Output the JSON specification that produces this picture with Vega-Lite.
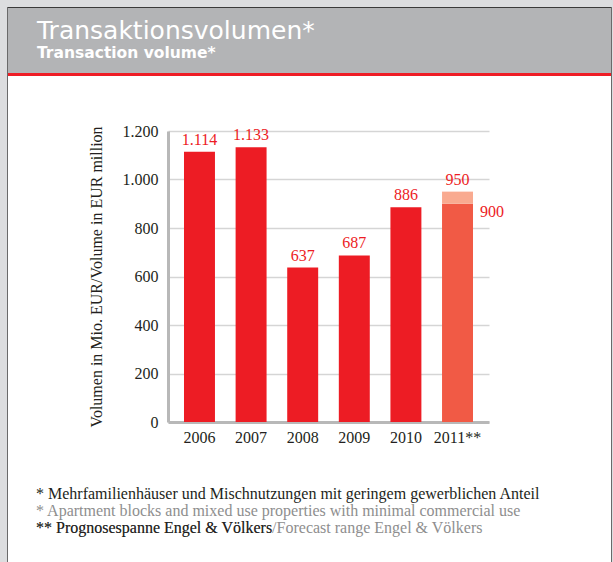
{
  "$schema": "https://vega.github.io/schema/vega-lite/v6.json",
  "background": "#ffffff",
  "padding": 0,
  "spacing": 0,
  "config": {
    "view": {"stroke": null},
    "locale": {"number": {"decimal": ",", "thousands": ".", "grouping": [3], "currency": ["", " €"]}},
    "font": "Liberation Serif"
  },
  "vconcat": [
    {"width": 613, "height": 7, "view": {"fill": "#dcdddf", "stroke": null}, "data": {"values": [{}]}, "mark": {"type": "point", "opacity": 0, "size": 1}},
    {
      "spacing": 0,
      "hconcat": [
        {"width": 7, "height": 555, "view": {"fill": "#dcdddf", "stroke": null}, "data": {"values": [{}]}, "mark": {"type": "point", "opacity": 0, "size": 1}},
        {"width": 1, "height": 555, "view": {"fill": "#6a6a6a", "stroke": null}, "data": {"values": [{}]}, "mark": {"type": "point", "opacity": 0, "size": 1}},
        {
          "spacing": 0,
          "vconcat": [
            {"width": 603, "height": 1, "view": {"fill": "#3a3a3a", "stroke": null}, "data": {"values": [{}]}, "mark": {"type": "point", "opacity": 0, "size": 1}},
            {
              "width": 603, "height": 65,
              "view": {"fill": "#b3b4b6", "stroke": null},
              "title": {
                "text": "Transaktionsvolumen*",
                "subtitle": "Transaction volume*",
                "anchor": "start",
                "frame": "group",
                "orient": "top",
                "offset": -53,
                "dx": 29,
                "font": "DejaVu Sans",
                "fontSize": 25,
                "fontWeight": "normal",
                "color": "#ffffff",
                "subtitleFont": "DejaVu Sans",
                "subtitleFontSize": 15.5,
                "subtitleFontWeight": "bold",
                "subtitleColor": "#ffffff",
                "subtitlePadding": 2
              },
              "data": {"values": [{}]},
              "mark": {"type": "point", "opacity": 0, "size": 1}
            },
            {"width": 603, "height": 3, "view": {"fill": "#ee1d25", "stroke": null}, "data": {"values": [{}]}, "mark": {"type": "point", "opacity": 0, "size": 1}},
            {"width": 603, "height": 47, "data": {"values": [{}]}, "mark": {"type": "point", "opacity": 0, "size": 1}},
            {
              "spacing": 0,
              "hconcat": [
                {"width": 80, "height": 291, "data": {"values": [{}]}, "mark": {"type": "point", "opacity": 0, "size": 1}},
                {
                  "width": 321,
                  "height": 291,
                  "data": {
                    "values": [
                      {"year": "2006", "start": 0, "end": 1114, "part": "Ist"},
                      {"year": "2007", "start": 0, "end": 1133, "part": "Ist"},
                      {"year": "2008", "start": 0, "end": 637, "part": "Ist"},
                      {"year": "2009", "start": 0, "end": 687, "part": "Ist"},
                      {"year": "2010", "start": 0, "end": 886, "part": "Ist"},
                      {"year": "2011**", "start": 0, "end": 900, "part": "Prognose Basis"},
                      {"year": "2011**", "start": 900, "end": 950, "part": "Prognosespanne"}
                    ]
                  },
                  "encoding": {
                    "x": {
                      "field": "year",
                      "type": "ordinal",
                      "sort": null,
                      "scale": {"paddingInner": 0.4, "paddingOuter": 0.31},
                      "axis": {
                        "title": null,
                        "labelAngle": 0,
                        "domainColor": "#b8b8b8",
                        "domainWidth": 3,
                        "ticks": false,
                        "labelPadding": 7,
                        "labelFont": "Liberation Serif",
                        "labelFontSize": 16,
                        "labelColor": "#231f20"
                      }
                    }
                  },
                  "layer": [
                    {
                      "mark": {"type": "bar"},
                      "encoding": {
                        "y": {
                          "field": "start",
                          "type": "quantitative",
                          "scale": {"domain": [0, 1200]},
                          "axis": {
                            "title": "Volumen in Mio. EUR/Volume in EUR million",
                            "values": [0, 200, 400, 600, 800, 1000, 1200],
                            "format": ",d",
                            "grid": true,
                            "gridColor": "#d5d5d5",
                            "gridWidth": 1.5,
                            "domainColor": "#b8b8b8",
                            "domainWidth": 3,
                            "ticks": false,
                            "labelPadding": 10,
                            "labelFont": "Liberation Serif",
                            "labelFontSize": 16,
                            "labelColor": "#231f20",
                            "titleFont": "Liberation Serif",
                            "titleFontSize": 16,
                            "titleFontWeight": "normal",
                            "titleColor": "#231f20",
                            "titlePadding": 18
                          }
                        },
                        "y2": {"field": "end"},
                        "color": {
                          "field": "part",
                          "type": "nominal",
                          "scale": {"domain": ["Ist", "Prognose Basis", "Prognosespanne"], "range": ["#ed1c24", "#f15a45", "#f9aa90"]},
                          "legend": null
                        }
                      }
                    },
                    {
                      "transform": [{"filter": "datum.part != 'Prognose Basis'"}],
                      "mark": {"type": "text", "baseline": "alphabetic", "dy": -7, "color": "#ed1c24", "font": "Liberation Serif", "fontSize": 16},
                      "encoding": {
                        "y": {"field": "end", "type": "quantitative"},
                        "text": {"field": "end", "type": "quantitative", "format": ",d"}
                      }
                    },
                    {
                      "transform": [{"filter": "datum.part == 'Prognose Basis'"}],
                      "mark": {"type": "text", "baseline": "alphabetic", "align": "left", "dx": 7, "dy": 13, "color": "#ed1c24", "font": "Liberation Serif", "fontSize": 16},
                      "encoding": {
                        "x": {"field": "year", "type": "ordinal", "bandPosition": 1},
                        "y": {"field": "end", "type": "quantitative"},
                        "text": {"field": "end", "type": "quantitative", "format": ",d"}
                      }
                    }
                  ]
                }
              ]
            },
            {"width": 603, "height": 41, "data": {"values": [{}]}, "mark": {"type": "point", "opacity": 0, "size": 1}},
            {
              "spacing": 0,
              "hconcat": [
                {"width": 28, "height": 34, "data": {"values": [{}]}, "mark": {"type": "point", "opacity": 0, "size": 1}},
                {
                  "width": 560,
                  "height": 34,
                  "data": {
                    "values": [
                      {"line": 1, "text": "* Mehrfamilienhäuser und Mischnutzungen mit geringem gewerblichen Anteil", "lang": "de"},
                      {"line": 2, "text": "* Apartment blocks and mixed use properties with minimal commercial use", "lang": "en"},
                      {"line": 3, "text": "** Prognosespanne Engel & Völkers/Forecast range Engel & Völkers", "lang": "en"},
                      {"line": 3, "text": "** Prognosespanne Engel & Völkers", "lang": "de"}
                    ]
                  },
                  "mark": {"type": "text", "align": "left", "baseline": "alphabetic", "font": "Liberation Serif", "fontSize": 16},
                  "encoding": {
                    "x": {"value": 0},
                    "y": {"field": "line", "type": "ordinal", "scale": {"type": "point", "padding": 0}, "axis": null},
                    "text": {"field": "text"},
                    "color": {"condition": {"test": "datum.lang == 'en'", "value": "#8e8e8e"}, "value": "#231f20"}
                  }
                }
              ]
            },
            {"width": 603, "height": 17, "data": {"values": [{}]}, "mark": {"type": "point", "opacity": 0, "size": 1}}
          ]
        },
        {"width": 1, "height": 555, "view": {"fill": "#6a6a6a", "stroke": null}, "data": {"values": [{}]}, "mark": {"type": "point", "opacity": 0, "size": 1}},
        {"width": 1, "height": 555, "view": {"fill": "#dcdddf", "stroke": null}, "data": {"values": [{}]}, "mark": {"type": "point", "opacity": 0, "size": 1}}
      ]
    }
  ]
}
